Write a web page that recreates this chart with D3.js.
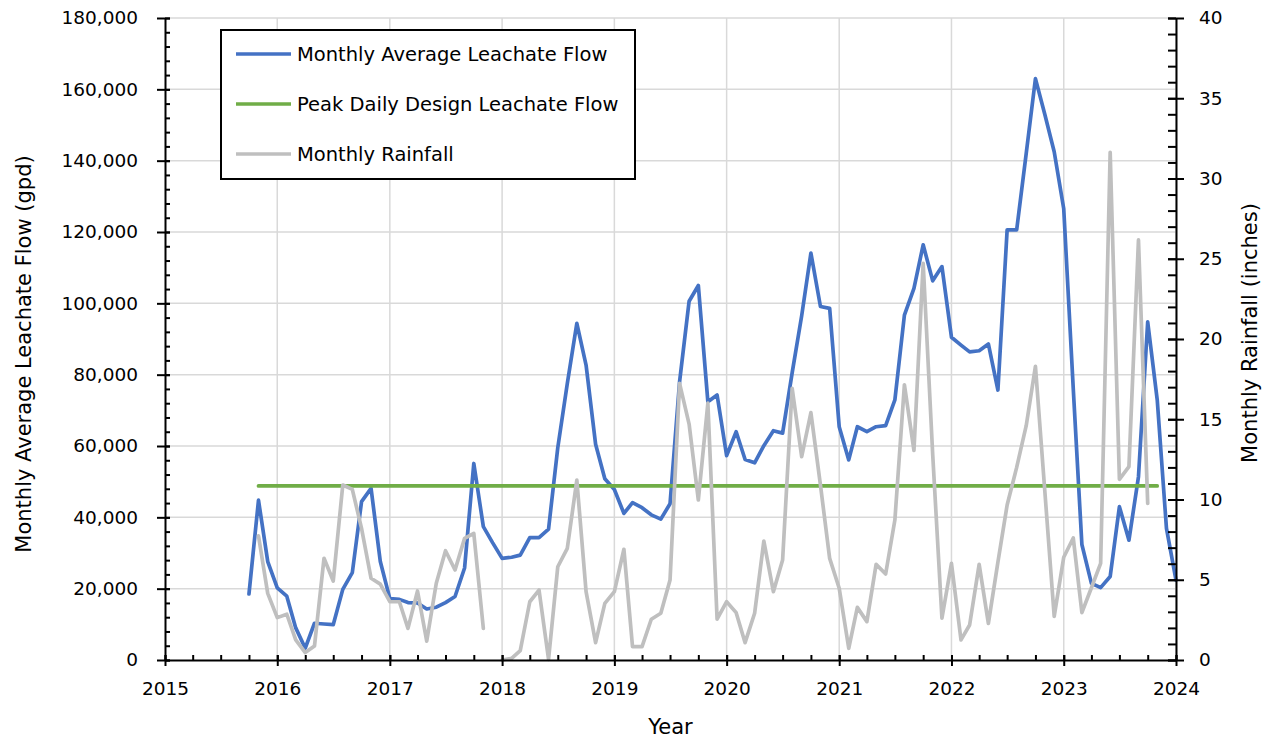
<!DOCTYPE html>
<html>
<head>
<meta charset="utf-8">
<script src="https://cdn.jsdelivr.net/npm/d3@7/dist/d3.min.js"></script>
<style>
  body { margin: 0; background: #fff; }
  svg text { font-family: "DejaVu Sans", "Liberation Sans", sans-serif; fill: #000; }
</style>
</head>
<body>
<svg id="chart" width="1278" height="740"></svg>
<script>
// Monthly average leachate flow (gpd), one value per month starting Oct 2015
const flowStart = [2015, 10];
const flowGpd = [
  18500, 44800, 27600,                                                          // 2015 Oct-Dec
  20200, 17900, 9000, 3300, 10300, 10100, 9900, 19800, 24500, 44400, 48100, 27600,  // 2016
  17200, 17000, 16100, 16000, 14300, 14800, 16100, 17800, 25800, 55100, 37400, 32900, // 2017
  28500, 28800, 29400, 34300, 34300, 36700, 59500, 77500, 94400, 82700, 60500, 50800, // 2018
  47800, 41100, 44100, 42700, 40700, 39500, 43800, 78000, 100600, 105000, 72400, 74300, // 2019
  57300, 64000, 56200, 55300, 60100, 64300, 63600, 80500, 96500, 114100, 99100, 98600, // 2020
  65400, 56100, 65400, 64000, 65400, 65700, 72900, 96700, 104200, 116400, 106300, 110300, // 2021
  90500, 88300, 86400, 86700, 88600, 75700, 120600, 120600, 142000, 163000, 152800, 142500, // 2022
  126500, 76000, 32400, 21500, 20300, 23400, 43000, 33600, 51400, 94800, 72900, 36900, // 2023
  22400                                                                          // 2024 Jan
];

// Monthly rainfall (inches), starting Nov 2015; Dec 2017 not recorded
const rainStart = [2015, 11];
const rainInches = [
  7.73, 4.15,                                                                   // 2015 Nov-Dec
  2.64, 2.85, 1.25, 0.46, 0.87, 6.34, 4.92, 10.9, 10.63, 8.2, 5.09, 4.73,       // 2016
  3.63, 3.63, 1.97, 4.3, 1.18, 4.78, 6.81, 5.61, 7.58, 7.89, 1.97, null,        // 2017
  0.0, 0.1, 0.58, 3.63, 4.36, 0.04, 5.81, 6.96, 11.21, 4.26, 1.08, 3.53,        // 2018
  4.26, 6.9, 0.83, 0.83, 2.54, 2.91, 4.98, 17.24, 14.7, 9.97, 16.0, 2.54,       // 2019
  3.63, 2.95, 1.08, 2.91, 7.41, 4.26, 6.23, 16.93, 12.67, 15.41, 10.9, 6.33,    // 2020
  4.47, 0.73, 3.28, 2.39, 5.96, 5.36, 8.72, 17.15, 13.06, 24.72, 12.8, 2.6,     // 2021
  6.02, 1.25, 2.18, 5.96, 2.28, 6.1, 9.66, 12.0, 14.6, 18.3, 10.4, 2.72,        // 2022
  6.4, 7.6, 2.95, 4.5, 6.02, 31.63, 11.26, 12.05, 26.17, 9.76                   // 2023 Jan-Oct
];

// Peak daily design leachate flow (gpd), Nov 2015 through Nov 2023
const designFlowGpd = 48800;
const designSpan = [[2015, 11], [2023, 11]];

const yearTicks = [2015, 2016, 2017, 2018, 2019, 2020, 2021, 2022, 2023, 2024];
const flowTicks = [0, 20000, 40000, 60000, 80000, 100000, 120000, 140000, 160000, 180000];
const rainTicks = [0, 5, 10, 15, 20, 25, 30, 35, 40];
const seriesNames = ["Monthly Average Leachate Flow", "Peak Daily Design Leachate Flow", "Monthly Rainfall"];
const seriesColors = ["#4472C4", "#70AD47", "#BFBFBF"];

const svg = d3.select("#chart");
const m = { left: 165, right: 1176, top: 18, bottom: 660 };

const monthDate = (start, i) => new Date(start[0], start[1] - 1 + i, 1);

const x = d3.scaleTime()
  .domain([new Date(yearTicks[0], 0, 1), new Date(yearTicks[yearTicks.length - 1], 0, 1)])
  .range([m.left, m.right]);
const yFlow = d3.scaleLinear().domain([0, 180000]).range([m.bottom, m.top]);
const yRain = d3.scaleLinear().domain([0, 40]).range([m.bottom, m.top]);

// gridlines
const grid = svg.append("g").attr("stroke", "#D9D9D9").attr("stroke-width", 1.5);
grid.selectAll("line.h").data(flowTicks.slice(1)).join("line")
  .attr("x1", m.left).attr("x2", m.right)
  .attr("y1", d => yFlow(d)).attr("y2", d => yFlow(d));
grid.selectAll("line.v").data(yearTicks.slice(1)).join("line")
  .attr("x1", d => x(new Date(d, 0, 1))).attr("x2", d => x(new Date(d, 0, 1)))
  .attr("y1", m.top).attr("y2", m.bottom);

// series
const flowPts = flowGpd.map((v, i) => ({ date: monthDate(flowStart, i), v }));
const rainPts = rainInches.map((v, i) => ({ date: monthDate(rainStart, i), v }));
const designPts = [
  { date: monthDate(designSpan[0], 0), v: designFlowGpd },
  { date: monthDate(designSpan[1], 0), v: designFlowGpd }
];

const flowLine = d3.line().x(d => x(d.date)).y(d => yFlow(d.v));
const rainLine = d3.line().defined(d => d.v !== null).x(d => x(d.date)).y(d => yRain(d.v));

const lines = svg.append("g").attr("fill", "none").attr("stroke-linejoin", "round").attr("stroke-linecap", "round");
lines.append("path").datum(flowPts).attr("d", flowLine)
  .attr("stroke", seriesColors[0]).attr("stroke-width", 3.7);
lines.append("path").datum(designPts).attr("d", flowLine)
  .attr("stroke", seriesColors[1]).attr("stroke-width", 3.7);
lines.append("path").datum(rainPts).attr("d", rainLine)
  .attr("stroke", seriesColors[2]).attr("stroke-width", 3.7);

// axes
function styleAxis(g) {
  g.select(".domain").attr("stroke", "#000").attr("stroke-width", 2);
  g.selectAll(".tick line").attr("stroke", "#000").attr("stroke-width", 2);
  g.selectAll(".tick text").style("font-size", "18.5px").attr("fill", "#000");
}

// minor ticks (inside the plot)
const flowMinor = d3.range(0, 180001, 4000);
const rainMinor = d3.range(0, 41, 1);
const quarterMinor = d3.timeMonth.every(3).range(x.domain()[0], new Date(2024, 0, 2));

svg.append("g").attr("transform", `translate(${m.left},0)`)
  .call(d3.axisRight(yFlow).tickValues(flowMinor).tickSize(5).tickFormat(""))
  .call(g => { g.select(".domain").remove(); g.selectAll(".tick line").attr("stroke", "#000").attr("stroke-width", 2); });
svg.append("g").attr("transform", `translate(${m.right},0)`)
  .call(d3.axisLeft(yRain).tickValues(rainMinor).tickSize(8).tickFormat(""))
  .call(g => { g.select(".domain").remove(); g.selectAll(".tick line").attr("stroke", "#000").attr("stroke-width", 2); });
svg.append("g").attr("transform", `translate(0,${m.bottom})`)
  .call(d3.axisTop(x).tickValues(quarterMinor).tickSize(5).tickFormat(""))
  .call(g => { g.select(".domain").remove(); g.selectAll(".tick line").attr("stroke", "#000").attr("stroke-width", 2); });

// major axes with labels; major ticks cross the axis line
svg.append("g").attr("transform", `translate(${m.left},0)`)
  .call(d3.axisLeft(yFlow).tickValues(flowTicks).tickFormat(d3.format(",")).tickSize(8).tickSizeOuter(0).tickPadding(19))
  .call(styleAxis)
  .call(g => g.selectAll(".tick line").attr("x1", 5));

svg.append("g").attr("transform", `translate(${m.right},0)`)
  .call(d3.axisRight(yRain).tickValues(rainTicks).tickSize(8).tickSizeOuter(0).tickPadding(15))
  .call(styleAxis)
  .call(g => g.selectAll(".tick line").attr("x1", -8));

svg.append("g").attr("transform", `translate(0,${m.bottom})`)
  .call(d3.axisBottom(x).tickValues(yearTicks.map(yv => new Date(yv, 0, 1))).tickFormat(d3.timeFormat("%Y")).tickSize(6).tickSizeOuter(0).tickPadding(16))
  .call(styleAxis)
  .call(g => g.selectAll(".tick line").attr("y1", -5));

// axis titles
svg.append("text").attr("transform", `translate(24,354) rotate(-90)`)
  .attr("text-anchor", "middle").attr("dominant-baseline", "central").style("font-size", "21px")
  .text("Monthly Average Leachate Flow (gpd)");
svg.append("text").attr("transform", `translate(1250,333) rotate(-90)`)
  .attr("text-anchor", "middle").attr("dominant-baseline", "central").style("font-size", "21px")
  .text("Monthly Rainfall (inches)");
svg.append("text").attr("x", (m.left + m.right) / 2).attr("y", 727)
  .attr("text-anchor", "middle").attr("dominant-baseline", "central").style("font-size", "21px")
  .text("Year");

// legend
const legend = svg.append("g");
legend.append("rect").attr("x", 221).attr("y", 30).attr("width", 414).attr("height", 149)
  .attr("fill", "#fff").attr("stroke", "#000").attr("stroke-width", 2);
const rows = legend.selectAll("g.row").data(seriesNames).join("g")
  .attr("transform", (d, i) => `translate(0,${54 + i * 50})`);
rows.append("line").attr("x1", 236).attr("x2", 291).attr("y1", 0).attr("y2", 0)
  .attr("stroke", (d, i) => seriesColors[i]).attr("stroke-width", 3.7);
rows.append("text").attr("x", 297).attr("y", 0).attr("dominant-baseline", "central")
  .style("font-size", "19.5px").text(d => d);
</script>
</body>
</html>
